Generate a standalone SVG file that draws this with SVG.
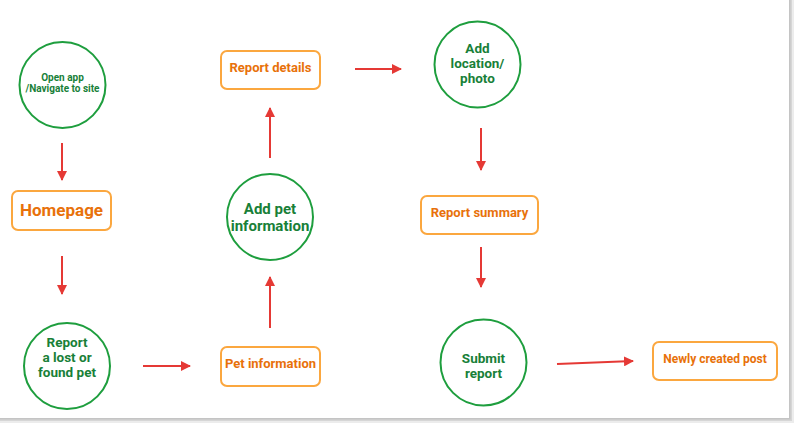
<svg xmlns="http://www.w3.org/2000/svg" width="800" height="429" viewBox="0 0 800 429">
<style>
.circ{fill:#fff;stroke:#1e9e3e;stroke-width:2}
.box{fill:#fff;stroke:#fba73f;stroke-width:2}
.gt{font-family:Roboto,"Liberation Sans",sans-serif;font-weight:700;fill:#188038;text-anchor:middle}
.ot{font-family:Roboto,"Liberation Sans",sans-serif;font-weight:700;fill:#e8710a;text-anchor:middle}
.arr{stroke:#e53935;stroke-width:2;fill:none;marker-end:url(#ah)}
</style>
<defs>
<marker id="ah" markerWidth="10" markerHeight="10" refX="9" refY="5" orient="auto" markerUnits="userSpaceOnUse" viewBox="0 0 10 10">
<path d="M0,0 L10,5 L0,10 Z" fill="#e53935"/>
</marker>
</defs>
<rect x="0" y="0" width="800" height="429" fill="#fff"/>
<rect x="0" y="0" width="794" height="423" fill="#ececec"/>
<rect x="0" y="0" width="792" height="421" fill="#d6d6d6"/>
<rect x="0" y="0" width="790.5" height="419.5" fill="#c4c4c4"/>
<rect x="0" y="0" width="789" height="418" fill="#fff"/>
<g id="connectors">
<line class="arr" x1="62" y1="143" x2="62" y2="180"/>
<line class="arr" x1="62" y1="256" x2="62" y2="294"/>
<line class="arr" x1="143" y1="366" x2="190" y2="366"/>
<line class="arr" x1="270" y1="328" x2="270" y2="277"/>
<line class="arr" x1="270" y1="158" x2="270" y2="108"/>
<line class="arr" x1="355" y1="69" x2="401" y2="69"/>
<line class="arr" x1="481" y1="128" x2="481" y2="170"/>
<line class="arr" x1="481" y1="247" x2="481" y2="287"/>
<line class="arr" x1="557" y1="364" x2="633" y2="361"/>
</g>
<g id="open-app">
<circle class="circ" cx="62.5" cy="85" r="43"/>
<text class="gt" font-size="10" x="62.5" y="80.5">Open app</text>
<text class="gt" font-size="10" x="62.5" y="91.5">/Navigate to site</text>
</g>
<g id="homepage">
<rect class="box" x="12" y="191" width="99" height="39" rx="6"/>
<text class="ot" font-size="17" x="61.5" y="216">Homepage</text>
</g>
<g id="report-lost">
<circle class="circ" cx="67" cy="366" r="43"/>
<text class="gt" font-size="13.5" x="67" y="347">Report</text>
<text class="gt" font-size="13.5" x="67" y="362">a lost or</text>
<text class="gt" font-size="13.5" x="67" y="377">found pet</text>
</g>
<g id="pet-information">
<rect class="box" x="221" y="347" width="99" height="39" rx="6"/>
<text class="ot" font-size="13" x="270.5" y="368">Pet information</text>
</g>
<g id="add-pet">
<circle class="circ" cx="270" cy="217" r="43"/>
<text class="gt" font-size="15" x="270" y="214">Add pet</text>
<text class="gt" font-size="15" x="270" y="231">information</text>
</g>
<g id="report-details">
<rect class="box" x="221" y="51" width="99" height="38" rx="6"/>
<text class="ot" font-size="13" x="270.5" y="72">Report details</text>
</g>
<g id="add-location">
<circle class="circ" cx="477.5" cy="64.5" r="43"/>
<text class="gt" font-size="13.5" x="477.5" y="53">Add</text>
<text class="gt" font-size="13.5" x="477.5" y="68">location/</text>
<text class="gt" font-size="13.5" x="477.5" y="83">photo</text>
</g>
<g id="report-summary">
<rect class="box" x="421" y="196" width="117" height="38" rx="6"/>
<text class="ot" font-size="13" x="479.5" y="217">Report summary</text>
</g>
<g id="submit-report">
<circle class="circ" cx="483.5" cy="362.5" r="43"/>
<text class="gt" font-size="13.5" x="483.5" y="363">Submit</text>
<text class="gt" font-size="13.5" x="483.5" y="378">report</text>
</g>
<g id="newly-created">
<rect class="box" x="653" y="342" width="124" height="38" rx="6"/>
<text class="ot" font-size="12" x="715" y="363">Newly created post</text>
</g>
</svg>
